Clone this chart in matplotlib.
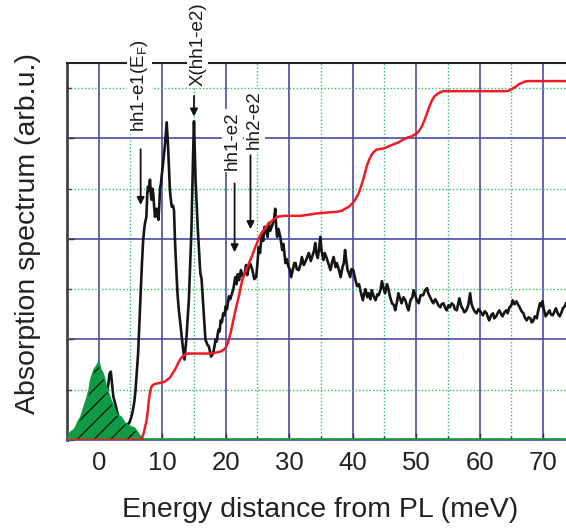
import numpy as np
import matplotlib
matplotlib.use('Agg')
import matplotlib.pyplot as plt
from matplotlib.ticker import MultipleLocator

plt.rcParams['font.family'] = ['Liberation Sans', 'DejaVu Sans']
plt.rcParams['mathtext.fontset'] = 'custom'
plt.rcParams['mathtext.rm'] = 'Liberation Sans'
plt.rcParams['hatch.linewidth'] = 0.9

# measured absorption spectrum (black)
abs_x = [1.0, 1.3, 1.5, 1.7, 1.9, 2.1, 2.3, 2.6, 3.0, 3.5, 4.0, 4.5, 4.8, 5.1, 5.3, 5.6, 5.8, 6.0, 6.2, 6.4,
         6.6, 6.8, 7.0, 7.2, 7.3, 7.5, 7.65, 7.75, 7.9, 8.07, 8.2, 8.3, 8.45, 8.6, 8.75, 8.86, 9.0, 9.1, 9.25, 9.4,
         9.55, 9.65, 9.8, 9.9, 10.05, 10.2, 10.45, 10.7, 10.9, 11.05, 11.2, 11.3, 11.5, 11.7, 11.85, 12.0, 12.1, 12.4, 12.6, 12.9,
         13.2, 13.5, 13.8, 14.2, 14.6, 14.85, 15.0, 15.25, 15.6, 16.0, 16.2, 16.5, 16.8, 17.1, 17.35, 17.7, 18.0, 18.2, 18.4, 18.6,
         18.75, 18.9, 19.05, 19.2, 19.4, 19.6, 19.8, 20.0, 20.2, 20.5, 20.7, 21.0, 21.2, 21.5, 21.7, 21.9, 22.1, 22.4, 22.7, 23.0,
         23.2, 23.4, 23.6, 23.9, 24.2, 24.5, 24.8, 25.0, 25.2, 25.4, 25.7, 25.9, 26.1, 26.3, 26.6, 26.8, 27.0, 27.3, 27.6, 27.8,
         27.95, 28.1, 28.3, 28.6, 28.9, 29.1, 29.4, 29.6, 29.9, 30.1, 30.3, 30.6, 30.8, 31.0, 31.2, 31.5, 31.8, 32.0, 32.3, 32.6,
         32.9, 33.1, 33.4, 33.6, 33.9, 34.1, 34.3, 34.5, 34.7, 34.9, 35.1, 35.4, 35.6, 35.9, 36.2, 36.5, 36.8, 37.0, 37.3, 37.5,
         37.8, 38.1, 38.4, 38.6, 38.8, 39.0, 39.2, 39.4, 39.6, 39.8, 40.1, 40.4, 40.7, 41.0, 41.2, 41.4, 41.6, 41.8, 42.0, 42.3,
         42.5, 42.8, 43.0, 43.3, 43.6, 43.9, 44.1, 44.4, 44.6, 44.9, 45.1, 45.4, 45.6, 45.9, 46.2, 46.5, 46.7, 47.0, 47.2, 47.5,
         47.7, 48.0, 48.3, 48.6, 48.8, 49.1, 49.4, 49.6, 49.9, 50.1, 50.4, 50.7, 51.1, 51.4, 51.7, 51.9, 52.2, 52.5, 52.7, 53.0,
         53.2, 53.5, 53.8, 54.0, 54.3, 54.6, 54.8, 55.1, 55.3, 55.6, 55.9, 56.1, 56.4, 56.6, 56.8, 57.1, 57.3, 57.6, 57.9, 58.2,
         58.5, 58.7, 58.9, 59.2, 59.5, 59.8, 60.0, 60.3, 60.5, 60.8, 61.1, 61.3, 61.5, 61.8, 62.1, 62.3, 62.6, 62.9, 63.1, 63.4,
         63.6, 63.9, 64.2, 64.4, 64.7, 65.0, 65.2, 65.5, 65.8, 66.1, 66.3, 66.6, 66.9, 67.1, 67.4, 67.7, 68.0, 68.2, 68.4, 68.7,
         69.0, 69.2, 69.5, 69.7, 69.9, 70.1, 70.4, 70.7, 71.0, 71.2, 71.5, 71.8, 72.0, 72.3, 72.6, 72.9, 73.1, 73.4, 73.6]
abs_y = [0.35, 0.48, 0.55, 0.66, 0.68, 0.56, 0.43, 0.36, 0.25, 0.2, 0.16, 0.15, 0.17, 0.22, 0.27, 0.38, 0.5, 0.68, 0.86, 1.15,
         1.46, 1.75, 1.99, 2.12, 2.16, 2.22, 2.45, 2.52, 2.48, 2.59, 2.45, 2.39, 2.5, 2.44, 2.3, 2.22, 2.28, 2.3, 2.24, 2.19,
         2.35, 2.5, 2.55, 2.62, 2.7, 2.79, 2.95, 3.16, 2.95, 2.72, 2.5, 2.42, 2.32, 2.33, 2.29, 2.0, 1.85, 1.46, 1.3, 1.13,
         0.95, 0.8, 1.0, 1.4, 2.09, 2.8, 3.17, 2.59, 2.1, 1.66, 1.6, 1.3, 1.0, 0.95, 0.93, 0.83, 0.86, 0.92, 1.0, 0.98,
         1.06, 1.1, 1.08, 1.19, 1.17, 1.26, 1.24, 1.33, 1.3, 1.43, 1.4, 1.46, 1.5, 1.62, 1.55, 1.65, 1.59, 1.69, 1.62, 1.66,
         1.74, 1.64, 1.71, 1.75, 1.69, 1.6, 1.62, 1.76, 1.92, 1.86, 2.06, 1.98, 2.12, 2.09, 2.02, 2.16, 2.08, 2.13, 2.19, 2.3,
         2.12, 2.02, 2.1, 2.02, 1.89, 1.95, 1.76, 1.8, 1.72, 1.7, 1.62, 1.7, 1.76, 1.76, 1.7, 1.69, 1.75, 1.82, 1.74, 1.78,
         1.83, 1.86, 1.78, 1.82, 1.88, 1.96, 1.85, 1.81, 1.9, 2.02, 1.88, 1.79, 1.86, 1.81, 1.75, 1.69, 1.78, 1.82, 1.72, 1.76,
         1.7, 1.62, 1.72, 1.76, 1.89, 1.78, 1.69, 1.66, 1.62, 1.7, 1.69, 1.6, 1.53, 1.55, 1.49, 1.44, 1.39, 1.45, 1.5, 1.42,
         1.46, 1.4, 1.49, 1.43, 1.39, 1.45, 1.44, 1.5, 1.58, 1.5, 1.46, 1.55, 1.51, 1.42, 1.36, 1.34, 1.29, 1.38, 1.46, 1.4,
         1.36, 1.42, 1.39, 1.32, 1.29, 1.39, 1.42, 1.49, 1.43, 1.39, 1.36, 1.44, 1.44, 1.49, 1.51, 1.46, 1.42, 1.38, 1.36, 1.4,
         1.38, 1.34, 1.32, 1.35, 1.36, 1.31, 1.29, 1.34, 1.32, 1.36, 1.34, 1.3, 1.29, 1.35, 1.41, 1.33, 1.31, 1.27, 1.29, 1.34,
         1.46, 1.36, 1.32, 1.28, 1.26, 1.3, 1.29, 1.26, 1.24, 1.28, 1.26, 1.22, 1.19, 1.24, 1.26, 1.21, 1.23, 1.27, 1.29, 1.25,
         1.23, 1.27, 1.29, 1.26, 1.32, 1.34, 1.39, 1.35, 1.38, 1.34, 1.32, 1.28, 1.26, 1.22, 1.19, 1.22, 1.21, 1.17, 1.18, 1.23,
         1.21, 1.28, 1.36, 1.33, 1.38, 1.3, 1.23, 1.26, 1.29, 1.25, 1.24, 1.28, 1.31, 1.26, 1.23, 1.27, 1.31, 1.33, 1.36]

# calculated absorption (red)
calc_x = [-5.0, 6.5, 6.8, 7.1, 7.3, 7.55, 7.75, 7.9, 8.1, 8.3, 8.6, 9.0, 9.8, 10.4, 10.8, 11.2, 11.6, 12.1, 12.4, 12.8,
          13.2, 13.6, 14.0, 15.5, 17.6, 18.5, 19.2, 19.7, 20.0, 20.3, 20.5, 20.8, 21.0, 21.3, 21.5, 21.8, 22.1, 22.4, 22.6, 23.0,
          23.4, 23.8, 24.2, 24.6, 25.0, 25.3, 25.7, 26.1, 26.5, 26.9, 27.3, 27.7, 28.1, 29.2, 31.8, 33.0, 33.9, 35.4, 37.5, 38.3,
          38.8, 39.4, 39.9, 40.4, 40.9, 41.3, 41.7, 42.0, 42.2, 42.6, 43.0, 43.4, 43.8, 44.9, 45.6, 46.4, 47.2, 48.0, 48.7, 49.3,
          49.8, 50.1, 50.5, 50.9, 51.3, 51.7, 52.1, 52.5, 52.9, 53.3, 53.8, 54.3, 57.5, 60.1, 64.2, 64.8, 65.3, 65.8, 66.2, 66.6,
          67.1, 67.7, 70.6, 73.6]
calc_y = [0.0, 0.0, 0.02, 0.07, 0.13, 0.2, 0.3, 0.4, 0.48, 0.53, 0.55, 0.56, 0.57, 0.58, 0.6, 0.62, 0.66, 0.71, 0.75, 0.8,
          0.83, 0.85, 0.86, 0.86, 0.86, 0.87, 0.88, 0.9, 0.92, 0.96, 1.0, 1.07, 1.13, 1.22, 1.28, 1.36, 1.44, 1.53, 1.59, 1.66,
          1.72, 1.78, 1.84, 1.91, 1.97, 2.02, 2.06, 2.1, 2.13, 2.16, 2.18, 2.2, 2.22, 2.23, 2.23, 2.24, 2.25, 2.26, 2.27, 2.28,
          2.3, 2.32, 2.35, 2.39, 2.45, 2.52, 2.6, 2.67, 2.72, 2.79, 2.84, 2.87, 2.89, 2.9, 2.92, 2.94, 2.96, 2.99, 3.01, 3.02,
          3.04, 3.05, 3.08, 3.12, 3.18, 3.25, 3.32, 3.38, 3.42, 3.44, 3.46, 3.47, 3.47, 3.47, 3.47, 3.48, 3.5, 3.52, 3.54, 3.55,
          3.565, 3.57, 3.57, 3.57]

# photoluminescence (green, hatched)
pl_x = [-5.0, -4.9, -4.6, -4.4, -3.9, -3.6, -3.35, -2.8, -2.5, -2.3, -1.8, -1.5, -1.26, -0.74, -0.5, -0.2, 0.05, 0.3, 0.55, 0.84,
        1.1, 1.36, 1.9, 2.4, 2.9, 3.5, 4.0, 4.5, 5.0, 5.6, 6.1, 6.6, 7.1, 8.0, 73.6]
pl_y = [0.02, 0.03, 0.06, 0.08, 0.1, 0.13, 0.17, 0.23, 0.29, 0.33, 0.43, 0.5, 0.6, 0.7, 0.72, 0.75, 0.78, 0.7, 0.68, 0.63,
        0.56, 0.5, 0.4, 0.33, 0.25, 0.23, 0.18, 0.15, 0.13, 0.12, 0.08, 0.03, 0.01, 0.01, 0.01]

# transition labels: text, text x, text y, arrow x, arrow start y, arrow tip y
labels = ['hh1-e1(E$_{\\mathrm{F}}$)', 'X(hh1-e2)', 'hh1-e2', 'hh2-e2']
label_x = [6.4, 15.6, 21.1, 24.5]
label_y = [3.06, 3.52, 2.69, 2.89]
arrow_x = [6.6, 15.0, 21.4, 23.9]
arrow_y0 = [2.92, 3.45, 2.58, 2.86]
arrow_y1 = [2.31, 3.19, 1.84, 2.07]

fig = plt.figure(figsize=(5.66, 5.29), dpi=100)
ax = fig.add_axes([67 / 566, 89 / 529, 499 / 566, 377 / 529])

ax.set_xlim(-5, 73.6)
ax.set_ylim(0, 3.75)

ax.xaxis.set_major_locator(MultipleLocator(10))
ax.xaxis.set_minor_locator(MultipleLocator(5))
ax.yaxis.set_major_locator(MultipleLocator(1))
ax.yaxis.set_minor_locator(MultipleLocator(0.5))
ax.set_axisbelow(True)
ax.grid(which='major', color='#4a4aa6', lw=1.2, ls='-')
ax.grid(which='minor', color='#2fbf6a', lw=1.0, ls=(0, (1, 1.5)))

ax.plot(abs_x, abs_y, color='#151515', lw=1.9, zorder=2)
ax.fill_between(pl_x, 0, pl_y, facecolor='#0f9a45', edgecolor='#111111', hatch='//', lw=0, zorder=3)
ax.plot(pl_x, pl_y, color='#0f9a45', lw=1.2, zorder=3)
ax.plot(calc_x, calc_y, color='#ee1c24', lw=1.8, zorder=4)

for t, tx, ty, axx, y0, y1 in zip(labels, label_x, label_y, arrow_x, arrow_y0, arrow_y1):
    ax.text(tx, ty, t, rotation=90, ha='center', va='bottom', fontsize=13.5, color='#1a1a1a',
            bbox=dict(facecolor='white', edgecolor='none', pad=1.5), zorder=6, clip_on=False)
    ax.annotate('', xy=(axx, y1), xytext=(axx, y0),
                arrowprops=dict(arrowstyle='-|>', color='#111111', lw=1.3, mutation_scale=11), zorder=6)

ax.tick_params(which='both', direction='in', colors='#333333', labelcolor='#222222')
ax.tick_params(which='major', length=5, width=1.0)
ax.tick_params(which='minor', length=3, width=1.0)
ax.tick_params(axis='x', labelsize=18.5, pad=8)
ax.tick_params(axis='y', labelleft=False)

ax.spines['right'].set_visible(False)
ax.spines['top'].set_color('#222222')
ax.spines['top'].set_linewidth(1.5)
ax.spines['left'].set_color('#444444')
ax.spines['left'].set_linewidth(2.0)
ax.spines['bottom'].set_color('#4a4aa6')
ax.spines['bottom'].set_linewidth(1.2)

fig.text(320 / 566, 1 - 510 / 529, 'Energy distance from PL (meV)', ha='center', va='center',
         fontsize=20.5, color='#222222')
fig.text(28 / 566, 1 - 233 / 529, 'Absorption spectrum (arb.u.)', ha='center', va='center',
         rotation=90, fontsize=20.5, color='#222222')

fig.savefig('out.png', dpi=100)
